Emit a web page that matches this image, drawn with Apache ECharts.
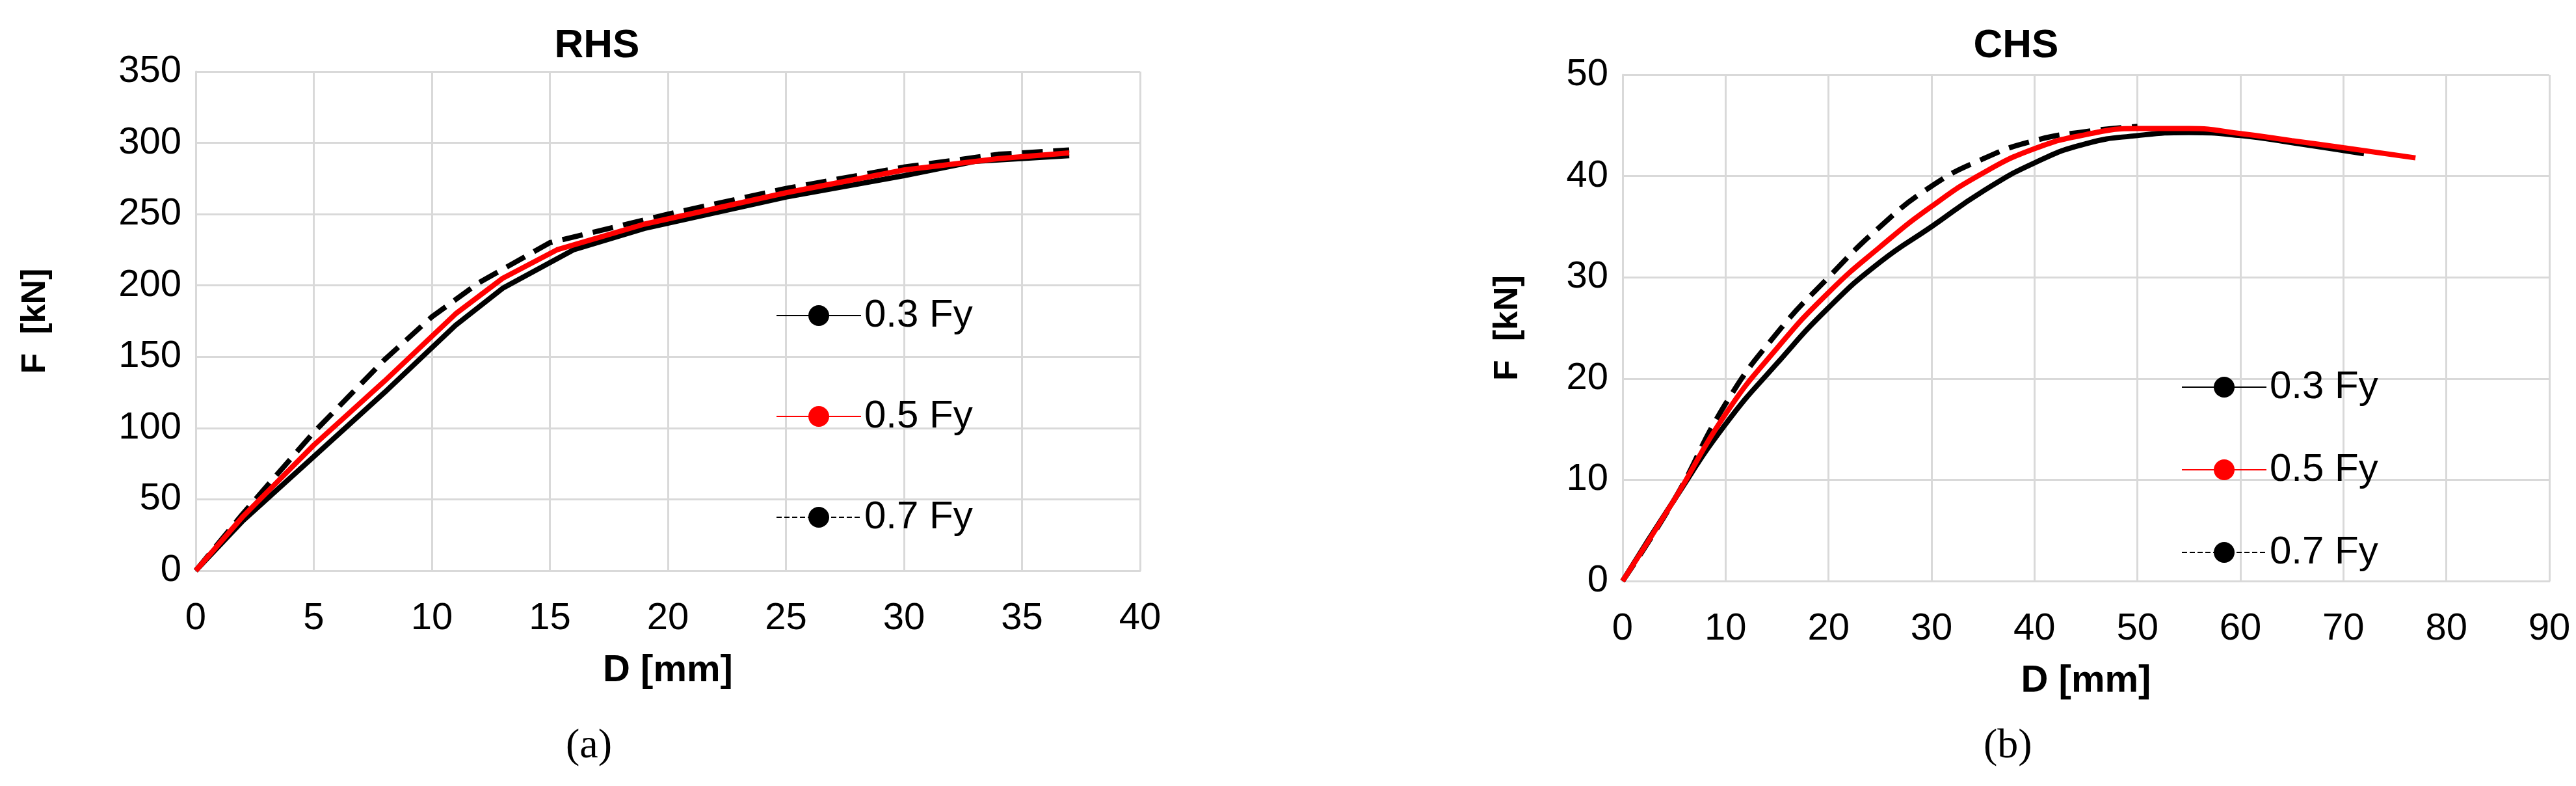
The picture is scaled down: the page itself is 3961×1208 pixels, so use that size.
<!DOCTYPE html><html><head><meta charset="utf-8">
<script src="https://cdn.jsdelivr.net/npm/echarts@6/dist/echarts.min.js"></script>
<style>html,body{margin:0;background:#fff}#c{width:3961px;height:1208px}</style></head><body><div id="c"></div>
<script>
const seriesNames=['0.3 Fy','0.5 Fy','0.7 Fy'];
const rhs03=[[0,0],[2,35],[5,80],[8,125],[11,172],[13,198],[16,225],[19,240],[25,262],[30,277],[33,287],[37,291]];
const rhs05=[[0,0],[2,38],[5,88],[8,133],[11,180],[13,205],[15.3,225],[19,243],[25,265],[30,281],[34,289],[37,293]];
const rhs07=[[0,0],[2,40],[5,97],[8,148],[10,178],[12,202],[15,230],[20,250],[25,268],[30,283],[34,292],[37,295]];
const chs03=[[0,0],[5,8],[10,15.5],[15,21.5],[20,27],[25,31.5],[30,35],[35,38.5],[40,41.3],[45,43.2],[50,44],[55,44.3],[60,44],[65,43.3],[72,42.2]];
const chs05=[[0,0],[5,8],[10,16.5],[15,23],[20,28.5],[25,33],[30,37],[35,40.3],[40,42.7],[45,44.1],[50,44.7],[55,44.7],[60,44.2],[65,43.5],[70,42.8],[77,41.8]];
const chs07=[[0,0],[5,8],[10,17.5],[15,24.5],[20,30],[25,35],[30,39],[35,41.7],[40,43.5],[45,44.4],[50,44.9]];
const F='"Liberation Sans",sans-serif';
const chart=echarts.init(document.getElementById('c'));
const gl={show:true,lineStyle:{color:'#d9d9d9',width:3}};
function xa(i,max,intv){return {type:'value',gridIndex:i,min:0,max:max,interval:intv,name:'D [mm]',nameLocation:'middle',nameGap:125,
 nameTextStyle:{fontFamily:F,fontWeight:'bold',fontSize:58,color:'#000'},
 axisLabel:{fontFamily:F,fontSize:58,color:'#000',margin:45},axisLine:{show:true,lineStyle:{color:'#d9d9d9',width:3}},axisTick:{show:false},splitLine:gl};}
function ya(i,max,intv,gap){return {type:'value',gridIndex:i,min:0,max:max,interval:intv,name:'F  [kN]',nameLocation:'middle',nameGap:gap,
 nameTextStyle:{fontFamily:F,fontWeight:'bold',fontSize:52,color:'#000'},
 axisLabel:{fontFamily:F,fontSize:58,color:'#000',margin:22},axisLine:{show:true,lineStyle:{color:'#d9d9d9',width:3}},axisTick:{show:false},splitLine:gl};}
const styles=[{color:'#000',type:'solid'},{color:'#ff0000',type:'solid'},{color:'#000',type:'dashed'}];
function mk(data,i,smooth){return data.map((d,k)=>({name:seriesNames[k],type:'line',xAxisIndex:i,yAxisIndex:i,data:d,symbol:'none',smooth:smooth,
 lineStyle:{color:styles[k].color,type:styles[k].type,width:8},itemStyle:{color:styles[k].color},z:k==1?3:2}));}
function lg(left,top,gap){return {data:seriesNames,orient:'vertical',left:left,top:top,itemGap:gap,itemWidth:130,itemHeight:40,
 textStyle:{fontFamily:F,fontSize:60,color:'#000'}};}
chart.setOption({animation:false,
 title:[{text:'RHS',left:913,top:35,textAlign:'center',textStyle:{fontFamily:F,fontWeight:'bold',fontSize:62,color:'#000'}},
        {text:'CHS',left:3095,top:35,textAlign:'center',textStyle:{fontFamily:F,fontWeight:'bold',fontSize:62,color:'#000'}}],
 grid:[{left:301,top:110,width:1452,height:767},{left:2495,top:115,width:1425,height:778}],
 xAxis:[xa(0,40,5),xa(1,90,10)],
 yAxis:[ya(0,350,50,220),ya(1,50,10,150)],
 legend:[lg(1188,450,95),lg(3349,560,67)],
 series:[...mk([rhs03,rhs05,rhs07],0,false),...mk([chs03,chs05,chs07],1,true)],
 graphic:[{type:'text',left:870,top:1115,style:{text:'(a)',font:'64px "Liberation Serif",serif',fill:'#000'}},
          {type:'text',left:3050,top:1115,style:{text:'(b)',font:'64px "Liberation Serif",serif',fill:'#000'}}]
});
</script></body></html>
